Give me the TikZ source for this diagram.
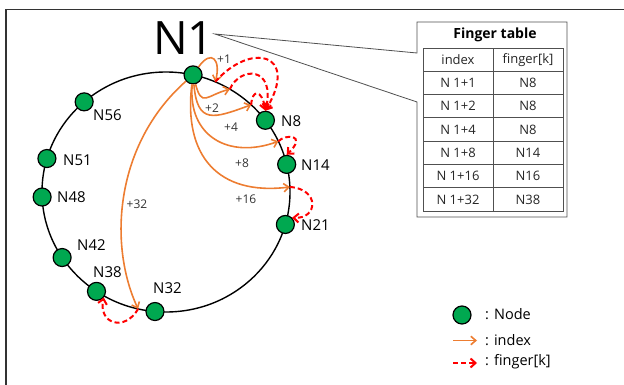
\documentclass[tikz,border=0pt]{standalone}
\usepackage{fontspec}
\setmainfont{Open Sans}
\usetikzlibrary{arrows.meta}

\definecolor{peergreen}{RGB}{0,168,80}
\definecolor{idxorange}{RGB}{237,125,49}
\definecolor{fingred}{RGB}{255,0,0}
\definecolor{hopgray}{RGB}{51,51,51}
\definecolor{tblgray}{RGB}{80,80,80}

\begin{document}
\begin{tikzpicture}[x=1pt,y=1pt,
  peer/.style={circle, draw=black, fill=peergreen, line width=1.2pt,
    minimum size=18pt, inner sep=0pt},
  nlabel/.style={font=\fontsize{15}{15}\selectfont, text=black, inner sep=0pt, anchor=west},
  hop/.style={font=\fontsize{12}{12}\selectfont, text=hopgray, inner sep=0pt},
  idx/.style={draw=idxorange, line width=1.6pt, -{Straight Barb[length=5pt,width=8.5pt]}},
  fing/.style={draw=fingred, line width=2pt, dash pattern=on 5pt off 3pt,
    -{Straight Barb[length=5pt,width=9pt]}},
  cell/.style={font=\fontsize{13}{13}\selectfont, text=black!85, inner sep=0pt},
  grid/.style={draw=tblgray, line width=0.8pt},
  leg/.style={font=\fontsize{14.5}{14.5}\selectfont, text=black, inner sep=0pt, anchor=west},
  ]
\useasboundingbox (0,0) rectangle (624,384);

% outer frame
\draw[line width=1.4pt, draw=black!80] (6,-2) -- (6,374.5) -- (626,374.5);

% the ring
\coordinate (rc) at (166,192);
\draw[line width=1.4pt] (rc) ellipse [x radius=124, y radius=120];

% peers on the ring
\path (rc) ++(77.4:124 and 120) node[peer] (n1) {};
\path (rc) ++(36.7:124 and 120) node[peer] (n8) {};
\path (rc) ++(13.3:124 and 120) node[peer] (n14) {};
\path (rc) ++(-15.7:124 and 120) node[peer] (n21) {};
\path (rc) ++(-95.1:124 and 120) node[peer] (n32) {};
\path (rc) ++(-124.1:124 and 120) node[peer] (n38) {};
\path (rc) ++(-146.9:124 and 120) node[peer] (n42) {};
\path (rc) ++(-177.6:124 and 120) node[peer] (n48) {};
\path (rc) ++(163.8:124 and 120) node[peer] (n51) {};
\path (rc) ++(131.3:124 and 120) node[peer] (n56) {};

% ring positions N1+2^k
\path (rc) ++(66.6:124 and 120) coordinate (t1);
\path (rc) ++(59:124 and 120) coordinate (t2);
\path (rc) ++(46.6:124 and 120) coordinate (t4);
\path (rc) ++(25:124 and 120) coordinate (t8);
\path (rc) ++(2.4:124 and 120) coordinate (t16);
\path (rc) ++(-103:124 and 120) coordinate (t32);

% peer names
\node[font=\fontsize{46}{46}\selectfont, inner sep=0pt] (bigN1) at (183.5,345.5) {N1};
\node[nlabel] (l8) at (281,263) {N8};
\node[nlabel] (l14) at (301,219) {N14};
\node[nlabel] (l21) at (301,159) {N21};
\node[nlabel] (l32) at (153,96) {N32};
\node[nlabel] (l38) at (93,112) {N38};
\node[nlabel] (l42) at (77,139) {N42};
\node[nlabel] (l48) at (57,187) {N48};
\node[nlabel] (l51) at (63,224) {N51};
\node[nlabel] (l56) at (93,269) {N56};

% index arrows from N1
\draw[idx] (n1) to[out=55, in=75, looseness=2.6] (t1);
\draw[idx] (n1) to[out=-75, in=195, looseness=1.8] (t2);
\draw[idx] (n1) to[out=-85, in=200, looseness=1.7] (t4);
\draw[idx] (n1) to[out=-95, in=200, looseness=1.3] (t8);
\draw[idx] (n1) to[out=-97, in=187, looseness=1.3] (t16);
\draw[idx] (n1) .. controls (115,240) and (108,140) .. (t32);

\node[hop] (h1) at (224,325) {+1};
\node[hop] (h2) at (212,276) {+2};
\node[hop] (h4) at (231,257) {+4};
\node[hop] (h8) at (242,221) {+8};
\node[hop] (h16) at (246,185) {+16};
\node[hop] (h32) at (137,180) {+32};

% finger pointers
\draw[fing] (t1) .. controls (250,342) and (300,332) .. (n8.north);
\draw[fing] (t2) .. controls (240,318) and (276,318) .. (n8.north);
\draw[fing] (t4) .. controls (252,295) and (262,295) .. (n8.north);
\draw[fing] (t8) .. controls (285,250) and (308,250) .. (n14.north);
\draw[fing] (t16) .. controls (320,195) and (318,165) .. (n21.north east);
\draw[fing] (t32) .. controls (125,52) and (98,60) .. (n38.-40);

% finger table callout
\draw[grid, fill=white] (417,362) -- (567,362) -- (567,167) -- (417,167)
  -- (417,282) -- (215,350) -- (417,331) -- cycle;
\node[font=\bfseries\fontsize{14}{14}\selectfont, inner sep=0pt] (ttl) at (495,349) {Finger table};
\draw[grid] (423,173) rectangle (563,336);
\draw[grid] (493,173) -- (493,336);
\foreach \i in {1,...,6}
  \draw[grid] (423,{336-\i*23.2857}) -- (563,{336-\i*23.2857});
\foreach \r/\a/\b in {0/index/{finger[k]}, 1/{N 1+1}/N8, 2/{N 1+2}/N8,
    3/{N 1+4}/N8, 4/{N 1+8}/N14, 5/{N 1+16}/N16, 6/{N 1+32}/N38} {
  \node[cell] (ia\r) at (458,{336-(\r+0.5)*23.2857}) {\a};
  \node[cell] (fb\r) at (528,{336-(\r+0.5)*23.2857}) {\b};
}

% legend
\node[peer] (lgnode) at (462,69) {};
\node[leg] (lgt1) at (485,70) {: Node};
\coordinate (la1) at (453,43.5);
\coordinate (la2) at (477,43.5);
\draw[idx] (la1) -- (la2);
\node[leg] (lgt2) at (485,44) {: index};
\coordinate (lb1) at (453,21);
\coordinate (lb2) at (477,21);
\draw[fing] (lb1) -- (lb2);
\node[leg] (lgt3) at (485,22) {: finger[k]};
\end{tikzpicture}
\end{document}
